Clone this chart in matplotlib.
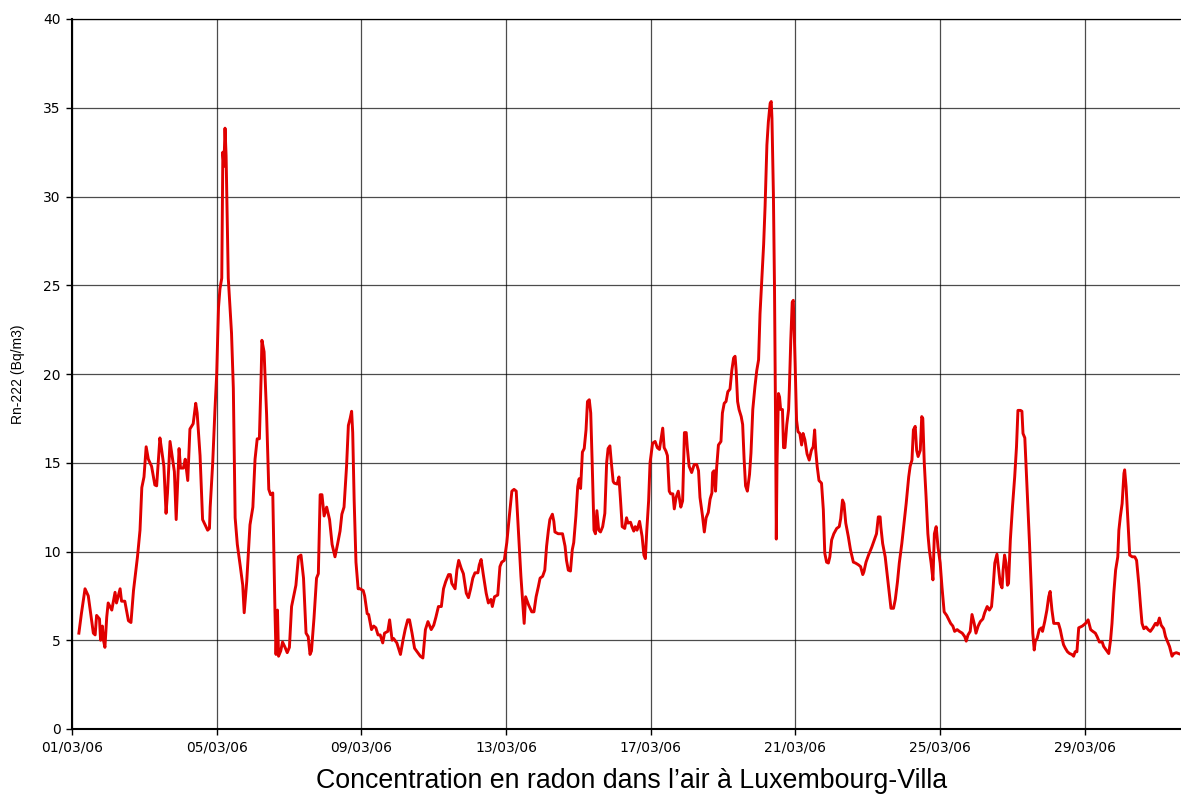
import pandas as pd
import matplotlib.pyplot as plt
import matplotlib.dates as mdates

# time as days since 01/03/2006 00:00, radon concentration in Bq/m3
jours = [
    0.19, 0.26, 0.36, 0.45, 0.59, 0.64, 0.68, 0.76, 0.79, 0.84, 0.87, 0.91, 0.96, 1.00,
    1.10, 1.19, 1.23, 1.33, 1.37, 1.46, 1.56, 1.63, 1.70, 1.81, 1.88, 1.93, 1.99, 2.05,
    2.11, 2.20, 2.29, 2.34, 2.43, 2.48, 2.54, 2.60, 2.64, 2.71, 2.76, 2.83, 2.88, 2.96,
    3.00, 3.08, 3.13, 3.20, 3.26, 3.35, 3.42, 3.46, 3.54, 3.61, 3.68, 3.75, 3.80,
    3.82, 3.89, 3.95, 4.00, 4.05, 4.09, 4.14, 4.17, 4.20, 4.23, 4.26, 4.32, 4.41, 4.46,
    4.51, 4.57, 4.65, 4.72, 4.76, 4.83, 4.92, 5.00, 5.06, 5.12, 5.18, 5.23, 5.25, 5.31,
    5.38, 5.44, 5.49, 5.55, 5.61, 5.64, 5.68, 5.71, 5.77, 5.82, 5.89, 5.95, 6.01, 6.07,
    6.19, 6.26, 6.33, 6.40, 6.47, 6.53, 6.58, 6.62, 6.69, 6.76, 6.81, 6.86, 6.91, 6.97,
    7.04, 7.12, 7.19, 7.27, 7.34, 7.41, 7.46, 7.52, 7.59, 7.64, 7.69, 7.73, 7.76, 7.80,
    7.85, 7.91, 7.96, 8.05,
    8.09, 8.16, 8.20, 8.28, 8.34, 8.40, 8.46, 8.52, 8.59, 8.64, 8.73, 8.78, 8.85, 8.89,
    8.98, 9.08, 9.15, 9.21, 9.28, 9.33, 9.40, 9.47, 9.54, 9.63, 9.70, 9.77, 9.84, 9.93,
    10.00, 10.06, 10.13, 10.21, 10.27, 10.33, 10.41, 10.46, 10.50, 10.59, 10.64, 10.69,
    10.76, 10.82, 10.90, 10.96, 11.02, 11.08, 11.14, 11.22, 11.26, 11.31, 11.37, 11.45,
    11.51, 11.58, 11.62, 11.68, 11.77, 11.83, 11.88, 11.95,
    12.02, 12.09, 12.16, 12.22, 12.28, 12.34, 12.41, 12.46, 12.50, 12.54, 12.62, 12.71,
    12.77, 12.83, 12.89, 12.94, 13.01, 13.07, 13.12, 13.17, 13.21, 13.28, 13.32, 13.35,
    13.44, 13.56, 13.63, 13.67, 13.72, 13.78, 13.83, 13.87, 13.93, 13.98, 14.02, 14.06,
    14.11, 14.16, 14.21, 14.25, 14.30, 14.34, 14.38, 14.43, 14.47, 14.51, 14.56, 14.61,
    14.67, 14.73, 14.78, 14.82, 14.87, 14.91, 14.96, 14.99, 15.07, 15.12, 15.16, 15.21,
    15.28, 15.33, 15.37, 15.44, 15.48, 15.53, 15.57, 15.62, 15.69, 15.76, 15.81, 15.85,
    15.89,
    15.94, 15.98, 16.05, 16.12, 16.18, 16.24, 16.29, 16.33, 16.37, 16.42, 16.46, 16.51,
    16.55, 16.61, 16.65, 16.70, 16.76, 16.83, 16.88, 16.93, 16.98, 17.01, 17.06, 17.13,
    17.20, 17.27, 17.32, 17.36, 17.43, 17.48, 17.53, 17.59, 17.64, 17.69, 17.71, 17.75,
    17.79, 17.82, 17.87, 17.94, 17.98, 18.03, 18.08, 18.13, 18.19, 18.24, 18.29, 18.33,
    18.36, 18.40, 18.44, 18.50, 18.54, 18.58, 18.62, 18.67, 18.73, 18.77, 18.82, 18.88,
    18.93, 18.98, 19.02, 19.07, 19.12, 19.16, 19.21, 19.25, 19.30, 19.33, 19.35, 19.39,
    19.42, 19.45, 19.47, 19.49, 19.53, 19.56, 19.59, 19.64, 19.67, 19.71, 19.76, 19.81,
    19.83, 19.87, 19.91,
    19.94, 19.99, 20.03, 20.07, 20.12, 20.17, 20.21, 20.26, 20.32, 20.38, 20.44, 20.49,
    20.53, 20.56, 20.60, 20.65, 20.72, 20.77, 20.81, 20.86, 20.91, 20.95, 21.00, 21.06,
    21.14, 21.21, 21.25, 21.30, 21.34, 21.39, 21.46, 21.52, 21.60, 21.66, 21.74, 21.80,
    21.86, 21.89, 21.95, 22.02, 22.11, 22.18, 22.24, 22.29, 22.34, 22.36, 22.41, 22.48,
    22.54, 22.60, 22.64, 22.71, 22.76, 22.82, 22.87, 22.94, 23.00, 23.06, 23.13, 23.17,
    23.22, 23.26, 23.31, 23.35, 23.39, 23.45, 23.49, 23.52, 23.56, 23.61, 23.66, 23.70,
    23.75, 23.80, 23.84, 23.89, 23.94, 24.00, 24.05, 24.11, 24.18,
    24.24, 24.29, 24.35, 24.40, 24.47, 24.53, 24.61, 24.68, 24.72, 24.77, 24.83, 24.88,
    24.94, 24.99, 25.05, 25.11, 25.18, 25.23, 25.30, 25.36, 25.42, 25.46, 25.51, 25.57,
    25.62, 25.66, 25.71, 25.74, 25.78, 25.82, 25.86, 25.89, 25.94, 26.00, 26.06, 26.11,
    26.15, 26.22, 26.26, 26.29, 26.34, 26.38, 26.43, 26.47, 26.52, 26.56, 26.60, 26.63,
    26.68, 26.74, 26.80, 26.83, 26.89, 26.95, 27.00, 27.04, 27.09, 27.14, 27.20, 27.27,
    27.32, 27.37, 27.41, 27.46, 27.52, 27.58, 27.64, 27.69, 27.73, 27.78,
    27.83, 27.93, 28.02, 28.09, 28.16, 28.22, 28.29, 28.34, 28.40, 28.48, 28.52, 28.59,
    28.66, 28.71, 28.75, 28.80, 28.85, 28.91, 28.94, 28.98, 29.03, 29.08, 29.10, 29.14,
    29.20, 29.24, 29.31, 29.38, 29.43, 29.49, 29.54, 29.58, 29.63, 29.69, 29.75, 29.81,
    29.88, 29.95, 30.00, 30.06, 30.11, 30.18, 30.23, 30.29, 30.34, 30.41, 30.46, 30.53,
    30.59, 30.66,
]
radon = [
    5.4, 6.5, 7.9, 7.5, 5.4, 5.3, 6.4, 6.2, 5.0, 5.8, 5.0, 4.6, 6.3, 7.1,
    6.7, 7.7, 7.1, 7.9, 7.2, 7.2, 6.1, 6.0, 7.8, 9.7, 11.2, 13.6, 14.2, 15.9,
    15.2, 14.8, 13.75, 13.7, 16.4, 15.7, 14.8, 12.15, 13.3, 16.2, 15.5, 14.5, 11.8, 15.8,
    14.7, 14.7, 15.2, 14.0, 16.9, 17.2, 18.35, 17.8, 15.4, 11.8, 11.5, 11.2, 11.3,
    12.5, 15.0, 17.9, 20.0, 23.75, 24.8, 25.4, 32.5, 31.7, 33.85, 32.3, 25.4, 22.3, 19.2,
    11.9, 10.4, 9.2, 8.1, 6.55, 8.3, 11.5, 12.5, 15.2, 16.35, 16.35, 20.0, 21.9, 21.25,
    17.7, 13.5, 13.2, 13.3, 6.7, 4.2, 6.7, 4.1, 4.4, 4.9, 4.6, 4.3, 4.6, 6.9,
    8.1, 9.7, 9.8, 8.5, 5.4, 5.2, 4.2, 4.4, 6.25, 8.5, 8.75, 13.2, 13.2, 12.0,
    12.5, 11.8, 10.4, 9.7, 10.4, 11.15, 12.1, 12.5, 14.8, 17.1, 17.5, 17.9, 16.7, 12.9,
    9.4, 7.9, 7.9, 7.8,
    7.5, 6.5, 6.45, 5.6, 5.8, 5.7, 5.3, 5.3, 4.85, 5.4, 5.5, 6.15, 5.0, 5.1,
    4.85, 4.2, 5.0, 5.6, 6.15, 6.15, 5.4, 4.55, 4.35, 4.1, 4.0, 5.6, 6.05, 5.6,
    5.85, 6.3, 6.9, 6.9, 7.9, 8.3, 8.7, 8.7, 8.2, 7.9, 8.95, 9.5,
    9.05, 8.75, 7.65, 7.4, 7.9, 8.5, 8.8, 8.8, 9.25, 9.55, 8.7, 7.65,
    7.1, 7.3, 6.9, 7.45, 7.55, 9.15, 9.4, 9.5,
    10.5, 12.0, 13.4, 13.5, 13.4, 11.2, 8.6, 7.1, 5.95, 7.45, 7.0, 6.6,
    6.6, 7.45, 8.0, 8.5, 8.6, 8.95, 10.3, 11.2, 11.8, 12.1, 11.7, 11.1,
    11.0, 11.0, 10.3, 9.5, 8.95, 8.9, 10.1, 10.5, 12.0, 13.65, 14.1, 13.55,
    15.6, 15.8, 16.85, 18.45, 18.55, 17.8, 15.0, 11.2, 11.0, 12.3, 11.2, 11.1,
    11.4, 12.15, 15.0, 15.8, 15.95, 15.0, 13.95, 13.85, 13.8, 14.2, 13.0, 11.4,
    11.3, 11.9, 11.6, 11.65, 11.4, 11.15, 11.4, 11.2, 11.7, 10.85, 9.8, 9.6,
    11.2,
    12.85, 15.0, 16.1, 16.2, 15.85, 15.75, 16.4, 16.95, 15.85, 15.65, 15.4, 13.4,
    13.25, 13.25, 12.4, 13.05, 13.4, 12.5, 12.85, 16.7, 16.7, 15.85, 14.8, 14.45,
    14.9, 14.9, 14.55, 13.05, 12.0, 11.1, 11.9, 12.2, 12.95, 13.3, 14.45, 14.55,
    13.4, 14.7, 16.0, 16.2, 17.8, 18.35, 18.45, 19.0, 19.15, 20.2, 20.9, 21.0,
    20.2, 18.45, 18.0, 17.6, 17.15, 15.2, 13.7, 13.4, 14.35, 15.55, 18.0, 19.3,
    20.2, 20.8, 23.4, 25.35, 27.3, 29.45, 32.9, 34.2, 35.25, 35.35, 34.4, 30.1,
    24.9, 17.15, 10.7, 15.0, 18.9, 18.7, 18.0, 18.0, 15.85, 15.85, 17.15, 18.0,
    19.1, 21.9, 24.05,
    24.15, 20.6, 17.4, 16.75, 16.65, 16.0, 16.65, 16.3, 15.5, 15.15, 15.7, 15.9,
    16.85, 15.7, 14.8, 14.0, 13.85, 12.35, 9.9, 9.4, 9.35, 9.7, 10.65, 11.0,
    11.3, 11.4, 11.85, 12.9, 12.7, 11.6, 10.85, 10.1, 9.4, 9.35, 9.25, 9.15,
    8.7, 8.85, 9.4, 9.8, 10.25, 10.65, 11.0, 11.95, 11.95, 11.4, 10.45, 9.7,
    8.6, 7.45, 6.8, 6.8, 7.3, 8.3, 9.35, 10.45, 11.6, 12.7, 14.2, 14.8,
    15.15, 16.85, 17.05, 15.7, 15.35, 15.7, 17.6, 17.5, 15.0, 13.1, 11.0, 10.1,
    9.35, 8.4, 11.0, 11.4, 10.25, 9.35, 8.0, 6.6, 6.4,
    6.15, 5.95, 5.8, 5.5, 5.6, 5.5, 5.4, 5.2, 4.95, 5.3, 5.5, 6.45,
    5.95, 5.4, 5.8, 6.05, 6.2, 6.55, 6.9, 6.7, 6.9, 7.85, 9.35, 9.85,
    8.95, 8.2, 7.95, 8.95, 9.8, 9.35, 8.1, 8.2, 10.65, 12.55, 14.2, 15.9,
    17.95, 17.95, 17.9, 16.65, 16.4, 14.6, 12.35, 10.45, 7.85, 5.4, 4.45, 4.95,
    5.1, 5.6, 5.7, 5.5, 6.05, 6.7, 7.45, 7.75, 6.7, 5.95, 5.95, 5.95,
    5.6, 5.1, 4.75, 4.55, 4.35, 4.25, 4.2, 4.1, 4.35, 4.35,
    5.7, 5.8, 5.95, 6.15, 5.6, 5.5, 5.4, 5.2, 4.9, 4.9, 4.65, 4.45,
    4.25, 5.0, 5.95, 7.65, 8.95, 9.7, 11.2, 11.95, 12.7, 14.4, 14.6, 13.65,
    11.4, 9.8, 9.7, 9.7, 9.5, 8.2, 6.9, 5.95, 5.65, 5.75, 5.6, 5.5,
    5.7, 5.95, 5.85, 6.25, 5.85, 5.65, 5.2, 4.9, 4.65, 4.1, 4.25, 4.3,
    4.25, 4.2,
]
y_ticks = [0, 5, 10, 15, 20, 25, 30, 35, 40]

debut = pd.Timestamp('2006-03-01')
dates = debut + pd.to_timedelta(jours, unit='D')

fig = plt.figure(figsize=(11.81, 8.07), dpi=100)
ax = fig.add_axes([72 / 1181, 1 - 729 / 807, 1108 / 1181, 710 / 807])

ax.plot(dates, radon, color='#e00000', linewidth=2.1, solid_joinstyle='round')

ax.set_xlim(debut, debut + pd.Timedelta(days=30.63))
ax.set_ylim(0, 40)
ax.set_yticks(y_ticks)
ax.xaxis.set_major_locator(mdates.DayLocator(bymonthday=range(1, 32, 4)))
ax.xaxis.set_major_formatter(mdates.DateFormatter('%d/%m/%y'))

ax.grid(True, color='#000000', linewidth=0.9, alpha=0.7)
ax.set_axisbelow(True)
for side in ['left', 'bottom']:
    ax.spines[side].set_linewidth(1.5)
ax.spines['top'].set_linewidth(0.9)
ax.spines['right'].set_visible(False)
ax.tick_params(axis='both', direction='out', length=4, width=1, labelsize=10,
               pad=4)

fig.text(18 / 1181, 1 - 374 / 807, 'Rn-222 (Bq/m3)', rotation=90,
         ha='center', va='center', fontsize=10, family='Liberation Sans')
fig.text(632 / 1181, 1 - 781 / 807, 'Concentration en radon dans l’air à Luxembourg-Villa',
         ha='center', va='center', fontsize=19.3, family='Liberation Sans')

plt.savefig('out.png', dpi=100)
